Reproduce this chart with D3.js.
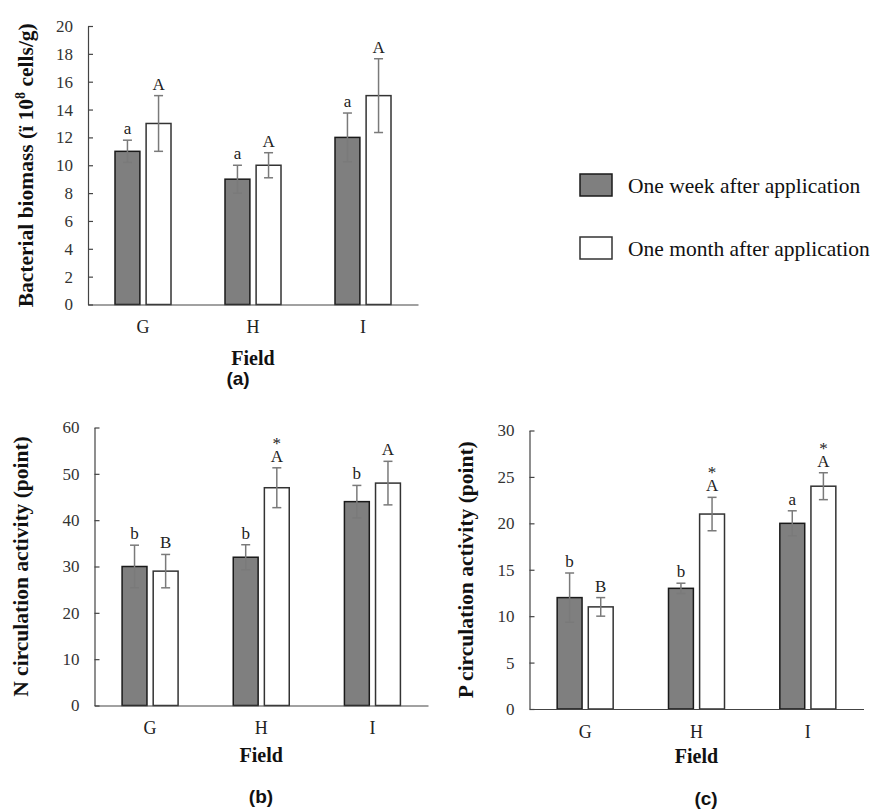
<!DOCTYPE html>
<html>
<head>
<meta charset="utf-8">
<script src="https://cdn.jsdelivr.net/npm/d3@7"></script>
<style>
  body { margin: 0; background: #fff; }
  text { font-family: "Liberation Serif", "Times New Roman", serif; }
</style>
</head>
<body>
<div id="chart"></div>
<script>
var fields = ["G", "H", "I"];
var series = ["One week after application", "One month after application"];

// (a) bacterial biomass
var biomassWeek = [11, 9, 12];
var biomassWeekErr = [0.8, 1.0, 1.75];
var biomassMonth = [13, 10, 15];
var biomassMonthErr = [2.0, 0.9, 2.65];
var biomassWeekLetters = ["a", "a", "a"];
var biomassMonthLetters = ["A", "A", "A"];
var biomassTicks = [0, 2, 4, 6, 8, 10, 12, 14, 16, 18, 20];

// (b) N circulation
var nWeek = [30, 32, 44];
var nWeekErr = [4.6, 2.7, 3.5];
var nMonth = [29, 47, 48];
var nMonthErr = [3.6, 4.3, 4.7];
var nWeekLetters = ["b", "b", "b"];
var nMonthLetters = ["B", "*A", "A"];
var nTicks = [0, 10, 20, 30, 40, 50, 60];

// (c) P circulation
var pWeek = [12, 13, 20];
var pWeekErr = [2.65, 0.55, 1.35];
var pMonth = [11, 21, 24];
var pMonthErr = [1.0, 1.8, 1.45];
var pWeekLetters = ["b", "b", "a"];
var pMonthLetters = ["B", "*A", "*A"];
var pTicks = [0, 5, 10, 15, 20, 25, 30];

var colors = ["#7f7f7f", "#ffffff"];
var strokes = ["#1a1a1a", "#333333"];

var svg = d3.select("#chart").append("svg")
  .attr("width", 880)
  .attr("height", 809)
  .style("background", "#fff");

draw_panel({
  left: 88, right: 418, top: 26, bottom: 304.5,
  ticks: biomassTicks,
  week: biomassWeek, weekErr: biomassWeekErr, month: biomassMonth, monthErr: biomassMonthErr,
  weekLetters: biomassWeekLetters, monthLetters: biomassMonthLetters,
  title: ["Bacterial biomass (ï 10", "8", " cells/g)"], titleX: 33,
  fieldY: 365, label: "(a)", labelX: 238, labelY: 385
});

draw_panel({
  left: 94.5, right: 428, top: 427.5, bottom: 705.5,
  ticks: nTicks,
  week: nWeek, weekErr: nWeekErr, month: nMonth, monthErr: nMonthErr,
  weekLetters: nWeekLetters, monthLetters: nMonthLetters,
  title: ["N circulation activity (point)"], titleX: 28,
  fieldY: 762, label: "(b)", labelX: 261, labelY: 803
});

draw_panel({
  left: 529.5, right: 863.5, top: 430.5, bottom: 709,
  ticks: pTicks,
  week: pWeek, weekErr: pWeekErr, month: pMonth, monthErr: pMonthErr,
  weekLetters: pWeekLetters, monthLetters: pMonthLetters,
  title: ["P circulation activity (point)"], titleX: 473,
  fieldY: 763, label: "(c)", labelX: 706, labelY: 805
});

draw_legend();

function draw_panel(o) {
  var g = svg.append("g");

  var y = d3.scaleLinear()
    .domain([0, d3.max(o.ticks)])
    .range([o.bottom, o.top]);

  var x0 = d3.scaleBand()
    .domain(fields)
    .range([o.left, o.right]);

  var half = 28;
  var x1 = d3.scaleBand()
    .domain(series)
    .range([x0.bandwidth() / 2 - half, x0.bandwidth() / 2 + half])
    .paddingInner(0.2);

  // one row per bar
  var rows = [];
  fields.forEach(function(f, i) {
    rows.push({field: f, s: 0, value: o.week[i], err: o.weekErr[i], letter: o.weekLetters[i]});
    rows.push({field: f, s: 1, value: o.month[i], err: o.monthErr[i], letter: o.monthLetters[i]});
  });

  var bx = function(d) { return x0(d.field) + x1(series[d.s]); };
  var cx = function(d) { return bx(d) + x1.bandwidth() / 2; };

  g.selectAll("rect.bar").data(rows)
    .enter().append("rect")
    .attr("class", "bar")
    .attr("x", bx)
    .attr("y", function(d) { return y(d.value); })
    .attr("width", x1.bandwidth())
    .attr("height", function(d) { return y(0) - y(d.value); })
    .style("fill", function(d) { return colors[d.s]; })
    .style("stroke", function(d) { return strokes[d.s]; })
    .style("stroke-width", 1.5);

  // error bars
  var eb = g.selectAll("g.err").data(rows)
    .enter().append("g")
    .attr("class", "err")
    .style("stroke", "#7a7a7a")
    .style("stroke-width", 1.5);
  eb.append("line")
    .attr("x1", cx).attr("x2", cx)
    .attr("y1", function(d) { return y(d.value + d.err); })
    .attr("y2", function(d) { return y(d.value - d.err); });
  eb.append("line")
    .attr("x1", function(d) { return cx(d) - 4.5; })
    .attr("x2", function(d) { return cx(d) + 4.5; })
    .attr("y1", function(d) { return y(d.value + d.err); })
    .attr("y2", function(d) { return y(d.value + d.err); });
  eb.append("line")
    .attr("x1", function(d) { return cx(d) - 4.5; })
    .attr("x2", function(d) { return cx(d) + 4.5; })
    .attr("y1", function(d) { return y(d.value - d.err); })
    .attr("y2", function(d) { return y(d.value - d.err); });

  // significance letters
  g.selectAll("text.letter").data(rows)
    .enter().append("text")
    .attr("class", "letter")
    .attr("x", cx)
    .attr("y", function(d) { return y(d.value + d.err) - 6; })
    .attr("text-anchor", "middle")
    .style("font-size", "17px")
    .style("fill", "#222")
    .text(function(d) { return d.letter.replace("*", ""); });

  g.selectAll("text.star").data(rows.filter(function(d) { return d.letter.indexOf("*") == 0; }))
    .enter().append("text")
    .attr("class", "star")
    .attr("x", cx)
    .attr("y", function(d) { return y(d.value + d.err) - 19; })
    .attr("text-anchor", "middle")
    .style("font-size", "17px")
    .style("fill", "#222")
    .text("*");

  // axes
  var yAxis = g.append("g")
    .attr("transform", "translate(" + o.left + ",0)")
    .call(d3.axisLeft(y).tickValues(o.ticks).tickSizeInner(-5).tickSizeOuter(0).tickPadding(15));
  yAxis.selectAll("text").style("font-size", "17px").style("fill", "#333")
    .style("font-family", "Liberation Serif");
  yAxis.selectAll("line, path").style("stroke", "#444").style("stroke-width", 1.2);

  var xAxis = g.append("g")
    .attr("transform", "translate(0," + o.bottom + ")")
    .call(d3.axisBottom(x0).tickSize(0).tickPadding(16));
  xAxis.selectAll("text").style("font-size", "18px").style("fill", "#222")
    .style("font-family", "Liberation Serif");
  xAxis.select("path").style("stroke", "#444").style("stroke-width", 1.2);

  // titles
  var mid = (o.top + o.bottom) / 2;
  var t = g.append("text")
    .attr("transform", "rotate(-90)")
    .attr("x", -mid)
    .attr("y", o.titleX)
    .attr("text-anchor", "middle")
    .style("font-size", "21.5px")
    .style("font-weight", "bold")
    .style("fill", "#111");
  t.append("tspan").text(o.title[0]);
  if (o.title.length > 1) {
    t.append("tspan").attr("dy", -8).style("font-size", "14px").text(o.title[1]);
    t.append("tspan").attr("dy", 8).text(o.title[2]);
  }

  g.append("text")
    .attr("x", (o.left + o.right) / 2)
    .attr("y", o.fieldY)
    .attr("text-anchor", "middle")
    .style("font-size", "20px")
    .style("font-weight", "bold")
    .style("fill", "#111")
    .text("Field");

  g.append("text")
    .attr("x", o.labelX)
    .attr("y", o.labelY)
    .attr("text-anchor", "middle")
    .style("font-family", "Liberation Sans, Arial, sans-serif")
    .style("font-size", "19px")
    .style("font-weight", "bold")
    .style("fill", "#111")
    .text(o.label);
}

function draw_legend() {
  var lg = svg.append("g").attr("transform", "translate(580,174)");
  var item = lg.selectAll("g").data(series)
    .enter().append("g")
    .attr("transform", function(d, i) { return "translate(0," + (i * 63) + ")"; });
  item.append("rect")
    .attr("width", 32)
    .attr("height", 22)
    .style("fill", function(d, i) { return colors[i]; })
    .style("stroke", function(d, i) { return strokes[i]; })
    .style("stroke-width", 1.5);
  item.append("text")
    .attr("x", 48)
    .attr("y", 19)
    .style("font-size", "21.5px")
    .style("fill", "#111")
    .text(function(d) { return d; });
}
</script>
</body>
</html>
